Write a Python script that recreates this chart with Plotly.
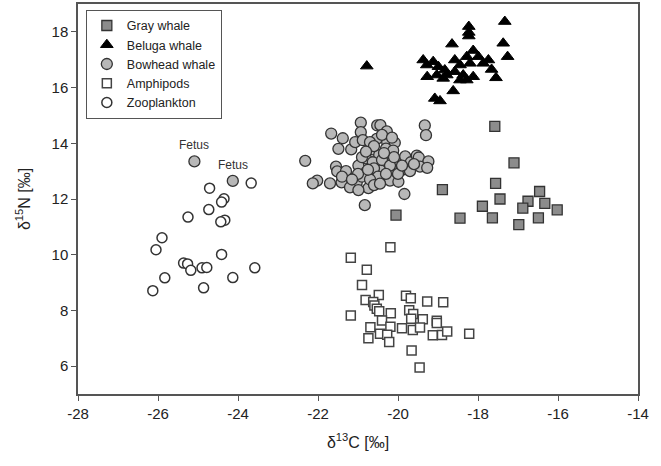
import plotly.graph_objects as go

# Gray whale
gray_x = [-17.58, -17.10, -18.89, -17.56, -17.45, -17.89, -18.45, -17.64, -16.98,
          -16.75, -16.88, -16.46, -16.33, -16.49, -16.02, -20.05]
gray_y = [14.61, 13.30, 12.34, 12.56, 12.00, 11.74, 11.31, 11.32, 11.08,
          11.92, 11.67, 12.27, 11.84, 11.32, 11.61, 11.42]

# Beluga whale
beluga_x = [-20.78, -17.33, -18.23, -18.23, -17.37, -18.65, -17.26, -19.37, -19.12,
            -18.58, -18.12, -18.28, -17.99, -17.74, -19.28, -18.99, -18.83, -18.45,
            -18.20, -17.87, -17.66, -19.27, -19.03, -18.78, -18.58, -18.37, -18.12,
            -17.55, -18.45, -18.28, -18.87, -18.62, -19.08, -18.95, -18.23]
beluga_y = [16.77, 18.37, 18.19, 17.98, 17.59, 17.56, 17.11, 16.99, 16.93,
            16.99, 17.33, 17.11, 17.11, 16.99, 16.81, 16.75, 16.63, 16.81,
            16.87, 16.87, 16.65, 16.39, 16.45, 16.45, 16.57, 16.45, 16.39,
            16.35, 16.27, 16.27, 16.33, 15.88, 15.61, 15.52, 17.85]

# Bowhead whale (last two are fetuses)
bow_x = [-22.32, -21.67, -21.38, -21.49, -21.17, -21.07, -20.93, -20.93, -20.88,
         -20.52, -20.44, -20.28, -20.53, -20.70, -20.27, -20.08, -20.63, -20.30,
         -20.12, -20.47, -20.80, -20.63, -20.28, -20.02, -19.82, -19.68, -19.53,
         -19.48, -19.24, -19.33, -19.30, -19.45, -19.27, -19.85, -21.55, -21.52,
         -21.30, -20.99, -20.80, -20.43, -20.10, -19.91, -20.58, -21.03, -21.24,
         -21.41, -21.70, -22.02, -22.13, -20.20, -19.99, -21.20, -20.74, -20.99,
         -19.84, -20.83,
         -20.90, -20.60, -20.40, -20.20, -20.60, -20.90, -20.50, -20.30, -21.00,
         -20.70, -20.00, -19.70, -20.40, -20.80, -21.30, -20.10, -19.90, -20.60,
         -21.40, -20.35, -20.15, -21.15, -20.45, -20.75, -19.60,
         -25.09, -24.13]
bow_y = [13.37, 14.35, 14.18, 13.80, 13.78, 14.04, 14.74, 14.40, 14.11,
         14.64, 14.65, 14.43, 14.16, 14.04, 14.04, 14.02, 13.78, 13.81,
         13.74, 13.58, 13.46, 13.32, 13.28, 13.38, 13.53, 13.32, 13.56,
         13.49, 13.35, 14.64, 14.29, 13.16, 13.12, 13.08, 13.16, 12.99,
         12.84, 13.20, 12.96, 13.02, 13.02, 13.04, 12.66, 12.60, 12.60,
         12.60, 12.56, 12.66, 12.56, 12.66, 12.62, 12.42, 12.39, 12.32,
         12.18, 11.78,
         13.50, 13.90, 13.40, 13.20, 13.10, 12.80, 12.80, 12.90, 12.90,
         12.70, 12.90, 13.00, 14.30, 13.70, 13.00, 13.50, 13.20, 12.50,
         12.80, 13.65, 14.20, 12.70, 12.55, 13.05, 13.25,
         13.35, 12.65]

# Amphipods
amph_x = [-20.19, -21.18, -20.78, -20.90, -20.48, -20.81, -20.62, -20.59, -20.53,
          -20.47, -20.18, -19.80, -19.68, -19.27, -18.87, -21.18, -19.72, -19.62,
          -19.67, -19.38, -20.40, -20.69, -20.19, -19.90, -19.63, -19.45, -19.03,
          -19.03, -20.74, -20.45, -20.27, -20.22, -19.13, -18.90, -18.77, -18.22,
          -19.66, -19.46]
amph_y = [10.27, 9.89, 9.46, 8.91, 8.55, 8.37, 8.30, 8.18, 8.06,
          7.97, 7.90, 8.53, 8.44, 8.32, 8.29, 7.82, 8.01, 7.87,
          7.70, 7.68, 7.64, 7.40, 7.41, 7.36, 7.30, 7.39, 7.63,
          7.55, 7.00, 7.16, 7.13, 6.87, 7.11, 7.12, 7.24, 7.16,
          6.56, 5.95]

# Zooplankton
zoo_x = [-24.71, -23.67, -24.35, -24.41, -24.73, -25.25, -24.33, -24.43, -25.90,
         -26.05, -24.41, -25.36, -25.26, -25.18, -24.90, -24.78, -23.58, -25.83,
         -24.13, -26.13, -24.86]
zoo_y = [12.39, 12.57, 12.01, 11.89, 11.62, 11.35, 11.24, 11.18, 10.61,
         10.18, 10.01, 9.70, 9.67, 9.44, 9.53, 9.54, 9.53, 9.17,
         9.18, 8.71, 8.81]

# Fetus annotations
fetus_x = [-25.09, -24.13]
fetus_y = [13.35, 12.65]
fetus_text = ["Fetus", "Fetus"]

# Tick labels
x_ticks = [-28, -26, -24, -22, -20, -18, -16, -14]
x_ticktext = ["-28", "-26", "-24", "-22", "-20", "-18", "-16", "-14"]
y_ticks = [6, 8, 10, 12, 14, 16, 18]
y_ticktext = ["6", "8", "10", "12", "14", "16", "18"]

FONT = "Liberation Sans, Arial"

fig = go.Figure()
line_dark = dict(color="#333333", width=1.3)
fig.add_trace(go.Scatter(x=gray_x, y=gray_y, mode="markers", name="Gray whale",
                         marker=dict(symbol="square", size=10, color="#8c8c8c", line=line_dark)))
fig.add_trace(go.Scatter(x=beluga_x, y=beluga_y, mode="markers", name="Beluga whale",
                         marker=dict(symbol="triangle-up", size=11, color="#000000",
                                     line=dict(color="#000000", width=1))))
fig.add_trace(go.Scatter(x=bow_x, y=bow_y, mode="markers", name="Bowhead whale",
                         marker=dict(symbol="circle", size=11, color="#b8b8b8", line=line_dark)))
fig.add_trace(go.Scatter(x=amph_x, y=amph_y, mode="markers", name="Amphipods",
                         marker=dict(symbol="square", size=9, color="#ffffff",
                                     line=dict(color="#444444", width=1.5))))
fig.add_trace(go.Scatter(x=zoo_x, y=zoo_y, mode="markers", name="Zooplankton",
                         marker=dict(symbol="circle", size=10, color="#ffffff",
                                     line=dict(color="#333333", width=1.5))))

for fx, fy, t in zip(fetus_x, fetus_y, fetus_text):
    fig.add_annotation(x=fx, y=fy, text=t, showarrow=False, yshift=16,
                       font=dict(size=12, color="#333333", family=FONT))

axis_common = dict(showgrid=False, zeroline=False, showline=True, linecolor="#555555",
                   linewidth=1.5, mirror=True, ticks="outside", ticklen=5, tickwidth=1.3,
                   tickcolor="#555555", automargin=False,
                   tickfont=dict(size=15, color="#222222", family=FONT))
fig.update_xaxes(range=[-28, -14], tickvals=x_ticks, ticktext=x_ticktext,
                 title=dict(text="δ<sup>13</sup>C [‰]", standoff=16,
                            font=dict(size=16, color="#222222", family=FONT)),
                 **axis_common)
fig.update_yaxes(range=[5, 19], tickvals=y_ticks, ticktext=y_ticktext,
                 title=dict(text="δ<sup>15</sup>N [‰]", standoff=17,
                            font=dict(size=16, color="#222222", family=FONT)),
                 **axis_common)

fig.update_layout(
    width=661, height=466,
    margin=dict(l=78, r=23, t=4, b=72),
    plot_bgcolor="white", paper_bgcolor="white",
    showlegend=True,
    legend=dict(x=0.014, y=0.985, xanchor="left", yanchor="top",
                bordercolor="#555555", borderwidth=1, bgcolor="white",
                font=dict(size=12.5, color="#222222", family=FONT),
                tracegroupgap=0, entrywidth=110),
)

fig.write_html("out.html", config={"displayModeBar": False},
               post_script="document.body.style.margin='0';document.body.style.overflow='hidden';")
